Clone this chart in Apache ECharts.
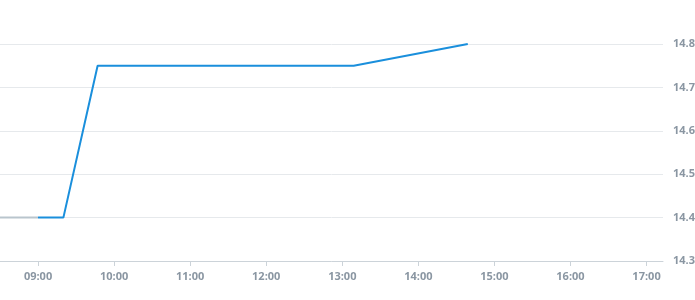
<!DOCTYPE html>
<html><head><meta charset="utf-8">
<script src="https://cdn.jsdelivr.net/npm/echarts@6/dist/echarts.min.js"></script>
<style>html,body{margin:0;padding:0;background:#fff}#c{width:695px;height:300px}</style>
</head><body><div id="c"></div>
<script>
// times in minutes since midnight
const priceTimes = [540, 560, 587, 789, 879];
const priceValues = [14.4, 14.4, 14.75, 14.75, 14.8];
const prevTimes = [510, 540];
const prevValues = [14.4, 14.4];
const xTickMinutes = [540, 600, 660, 720, 780, 840, 900, 960, 1020];
const yTicks = [14.3, 14.4, 14.5, 14.6, 14.7, 14.8];

function fmt(m){const h=Math.floor(m/60),mm=m%60;return String(h).padStart(2,'0')+':'+String(mm).padStart(2,'0');}
const chart = echarts.init(document.getElementById('c'));
const labelStyle = {color:'#8a96a2', fontFamily:'Open Sans', fontWeight:'bold', fontSize:11};
chart.setOption({
  animation:false,
  grid:{left:0, right:32, top:44, bottom:39, outerBoundsMode:'none', containLabel:false},
  xAxis:{type:'value', min:510, max:1033,
    axisLine:{show:true, lineStyle:{color:'#ccd3d9'}},
    axisTick:{show:true, customValues:xTickMinutes, length:5, lineStyle:{color:'#ccd3d9'}},
    axisLabel:Object.assign({customValues:xTickMinutes, formatter:v=>fmt(v), margin:10}, labelStyle),
    splitLine:{show:false}},
  yAxis:{type:'value', position:'right', min:14.3, max:14.8, interval:0.1,
    axisLine:{show:false}, axisTick:{show:false},
    axisLabel:Object.assign({margin:10, formatter:v=>v.toFixed(1)}, labelStyle),
    splitLine:{lineStyle:{color:'#e6e9ec'}}},
  series:[
    {type:'line', data:prevTimes.map((t,i)=>[t,prevValues[i]]), symbol:'none',
     lineStyle:{color:'#b9c5cd', width:2}},
    {type:'line', data:priceTimes.map((t,i)=>[t,priceValues[i]]), symbol:'none',
     lineStyle:{color:'#1a8fdc', width:2}}
  ]
});
</script></body></html>
